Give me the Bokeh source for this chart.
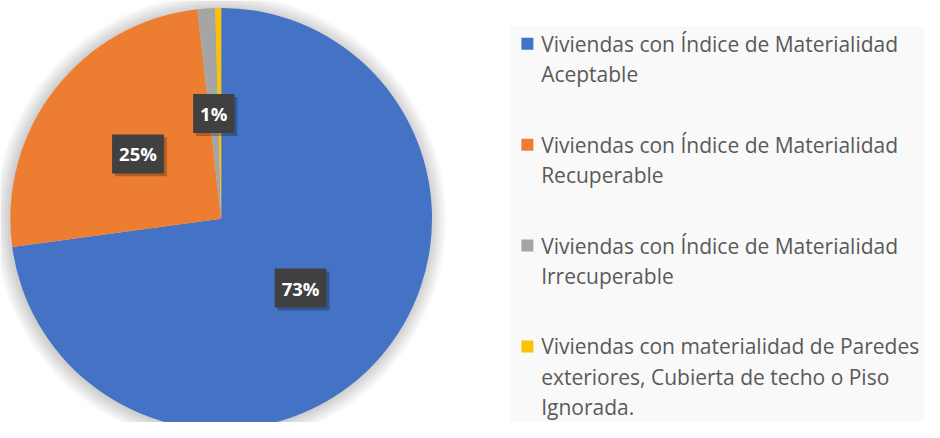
import math
from bokeh.plotting import figure
from bokeh.models import Range1d, ColumnDataSource
from bokeh.core.properties import value
from bokeh.embed import file_html
from bokeh.resources import INLINE

# ---- data ----
categories = [
    "Viviendas con Índice de Materialidad\nAceptable",
    "Viviendas con Índice de Materialidad\nRecuperable",
    "Viviendas con Índice de Materialidad\nIrrecuperable",
    "Viviendas con materialidad de Paredes\nexteriores, Cubierta de techo o Piso\nIgnorada.",
]
values = [72.85, 25.35, 1.35, 0.45]
colors = ["#4472C4", "#ED7D31", "#A5A5A5", "#FFC000"]

# ---- layout (data units follow the reference picture's pixels) ----
RW, RH = 940, 438
W, H = 924, 422
p = figure(width=W, height=H, x_range=Range1d(0, RW), y_range=Range1d(0, RH),
           x_axis_type=None, y_axis_type=None, toolbar_location=None,
           output_backend="svg", min_border=0)
p.outline_line_color = None
p.grid.visible = False
p.background_fill_color = "white"
p.border_fill_color = "white"


def sy(y):
    return RH - y


cx, cy, R = 224.5, sy(226.5), 214.5

# legend background panel
p.quad(left=519, right=RW, bottom=0, top=sy(27), fill_color="#f9f9f9", line_color=None)

# soft shadow around the pie
for k in range(16, 0, -1):
    p.circle(x=[cx - 1], y=[cy - 1], radius=R + k, fill_color="black", fill_alpha=0.013, line_color=None)

# wedges
total = sum(values)
starts, ends, mids = [], [], []
cum = 0.0
for v in values:
    a0 = math.pi / 2 - 2 * math.pi * cum / total
    cum += v
    a1 = math.pi / 2 - 2 * math.pi * cum / total
    starts.append(a0)
    ends.append(a1)
    mids.append((a0 + a1) / 2)

src = ColumnDataSource(dict(start=starts, end=ends, color=colors))
p.wedge(x=cx, y=cy, radius=R, start_angle="start", end_angle="end", direction="clock",
        fill_color="color", line_color=None, source=src)

# data labels
lab_x, lab_y, lab_t = [], [], []
ky = (W / RW) / (H / RH)
for v, m in zip(values, mids):
    pct = round(100 * v / total)
    if pct < 1:
        continue
    lab_x.append(cx + 0.5 * R * math.cos(m))
    lab_y.append(cy + 0.5 * R * ky * math.sin(m))
    lab_t.append(f"{pct}%")

p.text(x=[x + 3 for x in lab_x], y=[y - 3 for y in lab_y], text=lab_t,
       text_font=value("Open Sans"), text_font_size="18.5px", text_font_style="bold",
       text_align="center", text_baseline="middle", text_alpha=0,
       background_fill_color="black", background_fill_alpha=0.25,
       padding=dict(x=7, y=7))
p.text(x=lab_x, y=lab_y, text=lab_t,
       text_font=value("Open Sans"), text_font_size="18.5px", text_font_style="bold",
       text_align="center", text_baseline="middle", text_color="white",
       background_fill_color="#404040", padding=dict(x=7, y=7))

# legend
entry_gap = 104.7
line_gap = 31.5
mk_x, mk_y = [], []
tx, ty, tt = [], [], []
for i, lab in enumerate(categories):
    y0 = 45 + i * entry_gap
    mk_x.append(536)
    mk_y.append(sy(y0))
    for j, line in enumerate(lab.split("\n")):
        tx.append(550)
        ty.append(sy(y0 + j * line_gap))
        tt.append(line)

p.scatter(x=mk_x, y=mk_y, marker="square", size=12, fill_color=colors, line_color=None)
p.text(x=tx, y=ty, text=tt, text_font=value("Open Sans"), text_font_size="21px",
       text_color="#595959", text_align="left", text_baseline="middle")

open("out.html", "w").write(file_html(p, INLINE))
